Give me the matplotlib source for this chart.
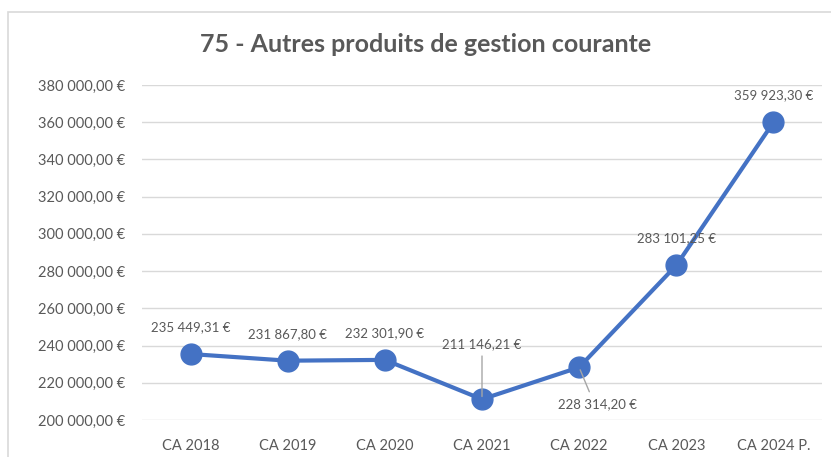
import matplotlib.pyplot as plt
from matplotlib.patches import Rectangle

categories = ['CA 2018', 'CA 2019', 'CA 2020', 'CA 2021', 'CA 2022', 'CA 2023', 'CA 2024 P.']
values = [235449.31, 231867.80, 232301.90, 211146.21, 228314.20, 283101.25, 359923.30]
# label offsets in pixels (dx, dy) relative to each point
label_offsets = [(0, 27), (0, 27), (0, 27), (0, 55), (18, -37), (0, 27), (0, 27)]
leader = [False, False, False, True, True, False, False]

def euro(v):
    s = f'{v:,.2f}'.replace(',', ' ').replace('.', ',')
    return s + ' €'

plt.rcParams['font.family'] = ['Lato', 'DejaVu Sans']
grey = '#595959'
blue = '#4472C4'

fig = plt.figure(figsize=(8.31, 4.57), dpi=100)
fig.patches.append(Rectangle((8 / 831, -0.01), 1.0, 1 - 12 / 457 + 0.01, transform=fig.transFigure,
                             fill=False, edgecolor='#D9D9D9', linewidth=1.2))
ax = fig.add_axes([142 / 831, 1 - 420 / 457, (822 - 142) / 831, (420 - 85) / 457])

x = list(range(len(categories)))
ax.plot(x, values, color=blue, linewidth=3, marker='o', markersize=15, zorder=3)

for i, v in enumerate(values):
    dx, dy = label_offsets[i]
    ax.annotate(euro(v), (i, v), xytext=(dx * 0.72, dy * 0.72), textcoords='offset points',
                ha='center', va='center', fontsize=9.5, color=grey, zorder=4)
    if leader[i]:
        if dy > 0:
            ax.annotate('', (i, v), xytext=(0, (dy - 9) * 0.72), textcoords='offset points',
                        arrowprops=dict(arrowstyle='-', color='#A6A6A6', lw=1), zorder=4)
        else:
            ax.annotate('', (i, v), xytext=(dx * 0.45, (dy + 10) * 0.72), textcoords='offset points',
                        arrowprops=dict(arrowstyle='-', color='#A6A6A6', lw=1), zorder=4)

ax.set_xlim(-0.5, len(categories) - 0.5)
ax.set_ylim(200000, 380000)
ax.set_yticks(range(200000, 380001, 20000))
ax.set_yticklabels([euro(t) for t in range(200000, 380001, 20000)])
ax.set_xticks(x)
ax.set_xticklabels(categories)
ax.tick_params(length=0, labelsize=10.5, colors=grey, pad=12)
ax.tick_params(axis='x', pad=14)
ax.grid(axis='y', color='#D9D9D9', linewidth=1)
ax.set_axisbelow(True)
for s in ax.spines.values():
    s.set_visible(False)

fig.text(426 / 831, 1 - 45 / 457, '75 - Autres produits de gestion courante', ha='center', va='center',
         fontsize=18, fontweight='bold', color=grey)

fig.savefig('out.png', dpi=100)
